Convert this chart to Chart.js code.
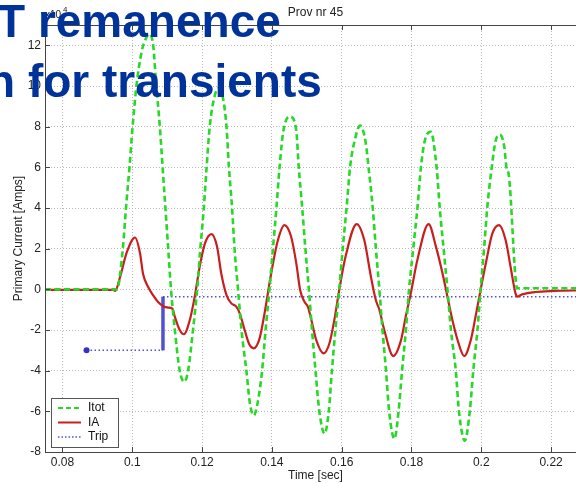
<!DOCTYPE html>
<html>
<head>
<meta charset="utf-8">
<script src="https://cdn.jsdelivr.net/npm/chart.js@4.4.1/dist/chart.umd.min.js"></script>
<style>
  html, body { margin: 0; padding: 0; overflow: hidden; background: #fff; }
  #wrap { position: relative; width: 590px; height: 483px; }
  .slide-title {
    position: absolute;
    font: bold 46px "Liberation Sans", Arial, sans-serif;
    line-height: 46px;
    color: #003399;
    white-space: nowrap;
  }
</style>
</head>
<body>
<div id="wrap">
  <canvas id="chart"></canvas>
  <div class="slide-title" style="top:-2px; left:-3px">T remanence</div>
  <div class="slide-title" style="top:58px; left:-13px">n for transients</div>
</div>
<script>
// values are in units of 1e4 A
const plotTitle = 'Prov nr 45';
const xTicks = [0.08, 0.1, 0.12, 0.14, 0.16, 0.18, 0.2, 0.22];
const xTickLabels = ['0.08', '0.1', '0.12', '0.14', '0.16', '0.18', '0.2', '0.22'];
const yTicks = [-8, -6, -4, -2, 0, 2, 4, 6, 8, 10, 12];
const yTickLabels = ['-8', '-6', '-4', '-2', '0', '2', '4', '6', '8', '10', '12'];

const itotTime = [
  0.075, 0.0956, 0.0973, 0.0982, 0.0992, 0.1001, 0.1012, 0.1027, 0.1038, 0.1049,
  0.1060, 0.1068, 0.1079, 0.1087, 0.1095, 0.1103, 0.1111, 0.1122, 0.1136, 0.1149,
  0.1160, 0.1174, 0.1186, 0.1195, 0.1205, 0.1213, 0.1222, 0.1236, 0.1248, 0.1260,
  0.1270, 0.1277, 0.1286, 0.1293, 0.1303, 0.1313, 0.1327, 0.1337, 0.1348, 0.1359,
  0.1372, 0.1382, 0.1393, 0.1403, 0.1413, 0.1422, 0.1433, 0.1452, 0.1470, 0.1477,
  0.1487, 0.1496, 0.1506, 0.1515, 0.1525, 0.1536, 0.1551, 0.1563, 0.1572, 0.1582,
  0.1593, 0.1603, 0.1614, 0.1624, 0.1637, 0.1653, 0.1669, 0.1677, 0.1689, 0.1698,
  0.1708, 0.1717, 0.1727, 0.1736, 0.1751, 0.1763, 0.1773, 0.1784, 0.1793, 0.1805,
  0.1817, 0.1827, 0.1838, 0.1855, 0.1872, 0.1881, 0.1892, 0.1903, 0.1913, 0.1927,
  0.1936, 0.1953, 0.1967, 0.1977, 0.1989, 0.1998, 0.2008, 0.2017, 0.2030, 0.2041,
  0.2053, 0.2066, 0.2072, 0.2079, 0.2103, 0.2300
];
const itot = [
  0.0, 0.0, 2.0, 4.0, 6.0, 8.0, 10.0, 11.7, 12.3, 12.55,
  12.0, 10.2, 8.0, 6.0, 4.0, 2.0, 0.0, -2.0, -4.0, -4.55,
  -4.0, -2.0, 0.0, 2.0, 4.0, 6.0, 8.0, 9.5, 9.9, 9.4,
  8.0, 6.0, 4.0, 2.0, 0.0, -2.0, -4.0, -5.6, -6.2, -5.6,
  -4.0, -2.0, 0.0, 2.0, 4.0, 6.0, 7.8, 8.5, 7.8, 6.0,
  4.0, 2.0, 0.0, -2.0, -4.0, -6.0, -7.1, -6.0, -4.0, -2.0,
  0.0, 2.0, 4.0, 6.0, 7.3, 8.05, 7.2, 6.0, 4.0, 2.0,
  0.0, -2.0, -4.0, -6.0, -7.35, -6.0, -4.0, -2.0, 0.0, 2.0,
  4.0, 6.0, 7.3, 7.75, 6.0, 4.0, 2.0, 0.0, -2.0, -4.0,
  -6.0, -7.45, -6.0, -4.0, -2.0, 0.0, 2.0, 4.0, 6.0, 7.3,
  7.6, 7.0, 6.0, 5.6, 0.05, 0.05
];

const iaTime = [
  0.075, 0.0945, 0.0951, 0.0965, 0.0984, 0.1008, 0.1022, 0.1031, 0.1046, 0.1060,
  0.1074, 0.1089, 0.1103, 0.1115, 0.1122, 0.1136, 0.1148, 0.1165, 0.1179, 0.1193,
  0.1208, 0.1227, 0.1243, 0.1255, 0.1270, 0.1284, 0.1298, 0.1308, 0.1322, 0.1336,
  0.1348, 0.1365, 0.1379, 0.1398, 0.1417, 0.1436, 0.1455, 0.1470, 0.1481, 0.1493,
  0.1503, 0.1513, 0.1527, 0.1548, 0.1565, 0.1579, 0.1593, 0.1611, 0.1643, 0.1665,
  0.1684, 0.1698, 0.1708, 0.1722, 0.1748, 0.1770, 0.1784, 0.1798, 0.1817, 0.1849,
  0.1870, 0.1889, 0.1903, 0.1917, 0.1932, 0.1951, 0.1970, 0.1984, 0.1998, 0.2013,
  0.2032, 0.2051, 0.2070, 0.2084, 0.2098, 0.2103, 0.2117, 0.2155, 0.2206, 0.2300
];
const ia = [
  -0.03, -0.03, -0.08, 0.6, 1.8, 2.55, 1.8, 0.75, 0.1, -0.3,
  -0.62, -0.83, -0.9, -0.95, -1.35, -2.0, -2.21, -1.5, -0.36, 1.1,
  2.25, 2.72, 2.1, 0.78, -0.28, -0.69, -0.85, -1.18, -2.0, -2.73,
  -2.9, -2.4, -1.18, 0.78, 2.4, 3.16, 2.6, 1.28, -0.03, -0.6,
  -0.85, -1.5, -2.49, -3.15, -2.65, -1.5, -0.03, 1.6, 3.21, 2.4,
  0.6, -0.54, -1.0, -2.0, -3.28, -2.5, -1.3, -0.2, 1.45, 3.21,
  2.1, 0.78, -0.36, -1.5, -2.49, -3.28, -2.49, -1.3, -0.03, 1.28,
  2.76, 3.16, 2.4, 1.1, -0.2, -0.36, -0.25, -0.13, -0.08, -0.05
];

const tripTime = [0.0869, 0.1088, 0.1088, 0.2300];
const trip = [-3.0, -3.0, -0.36, -0.36];

const toPoints = (xs, ys) => xs.map((x, i) => ({ x, y: ys[i] }));
const fontFamily = '"Liberation Sans", Arial, Helvetica, sans-serif';
Chart.defaults.font.family = fontFamily;
Chart.defaults.color = '#222';

const isVertical = (ctx) => ctx.p0.parsed.x === ctx.p1.parsed.x;

// matlab style frame, inward ticks, title, exponent and legend box
const matlabFrame = {
  id: 'matlabFrame',
  afterDraw(chart) {
    const { ctx, chartArea: a, scales: { x, y } } = chart;
    ctx.save();
    ctx.strokeStyle = '#444';
    ctx.lineWidth = 1;
    ctx.strokeRect(a.left + 0.5, a.top + 0.5, a.right - a.left, a.bottom - a.top);
    ctx.beginPath();
    xTicks.forEach((v) => {
      const px = Math.round(x.getPixelForValue(v)) + 0.5;
      ctx.moveTo(px, a.bottom); ctx.lineTo(px, a.bottom - 5);
      ctx.moveTo(px, a.top); ctx.lineTo(px, a.top + 5);
    });
    yTicks.forEach((v) => {
      const py = Math.round(y.getPixelForValue(v)) + 0.5;
      ctx.moveTo(a.left, py); ctx.lineTo(a.left + 5, py);
    });
    ctx.stroke();

    ctx.fillStyle = '#222';
    ctx.textBaseline = 'middle';
    ctx.textAlign = 'center';
    ctx.font = '12px ' + fontFamily;
    ctx.fillText(plotTitle, (a.left + a.right) / 2, 13);
    ctx.textAlign = 'left';
    ctx.font = '10px ' + fontFamily;
    ctx.fillText('x10', a.left, 15);
    ctx.font = '8px ' + fontFamily;
    ctx.fillText('4', a.left + ctx.measureText('x10').width + 5, 10);

    // legend
    const bx = a.left + 6;
    const by = a.bottom - 54;
    ctx.fillStyle = '#fff';
    ctx.fillRect(bx, by, 67, 49);
    ctx.strokeStyle = '#555';
    ctx.strokeRect(bx + 0.5, by + 0.5, 67, 49);
    ctx.font = '12px ' + fontFamily;
    chart.data.datasets.forEach((ds, i) => {
      const ly = by + 10 + i * 14.5;
      ctx.beginPath();
      ctx.strokeStyle = ds.borderColor;
      ctx.lineWidth = ds.legendWidth;
      ctx.setLineDash(ds.legendDash);
      ctx.moveTo(bx + 7, ly);
      ctx.lineTo(bx + 30, ly);
      ctx.stroke();
      ctx.setLineDash([]);
      ctx.fillStyle = '#111';
      ctx.fillText(ds.label, bx + 37, ly);
    });
    ctx.restore();
  }
};

new Chart(document.getElementById('chart'), {
  type: 'line',
  data: {
    datasets: [
      {
        label: 'Itot',
        data: toPoints(itotTime, itot),
        borderColor: 'rgb(40, 215, 40)',
        borderWidth: 2.6,
        borderDash: [6, 3.5],
        legendWidth: 2.2,
        legendDash: [5, 3],
        pointRadius: 0,
        cubicInterpolationMode: 'monotone'
      },
      {
        label: 'IA',
        data: toPoints(iaTime, ia),
        borderColor: 'rgb(200, 30, 30)',
        borderWidth: 2.2,
        legendWidth: 2,
        legendDash: [],
        pointRadius: 0,
        cubicInterpolationMode: 'monotone'
      },
      {
        label: 'Trip',
        data: toPoints(tripTime, trip),
        borderColor: 'rgba(50, 50, 200, 0.85)',
        borderWidth: 1.5,
        borderDash: [1.5, 2.5],
        legendWidth: 1.5,
        legendDash: [1.5, 2],
        tension: 0,
        pointRadius: (ctx) => (ctx.dataIndex === 0 ? 3 : 0),
        pointBackgroundColor: 'rgb(50, 50, 200)',
        pointBorderWidth: 0,
        segment: {
          borderWidth: (ctx) => (isVertical(ctx) ? 3.5 : 1.5),
          borderDash: (ctx) => (isVertical(ctx) ? [] : [1.5, 2.5])
        }
      }
    ]
  },
  options: {
    responsive: true,
    maintainAspectRatio: false,
    animation: false,
    layout: { padding: { top: 25, right: 2.5, left: 0, bottom: 0 } },
    plugins: {
      legend: { display: false },
      tooltip: { enabled: false }
    },
    scales: {
      x: {
        type: 'linear',
        min: 0.075,
        max: 0.23,
        afterBuildTicks(scale) { scale.ticks = xTicks.map((v) => ({ value: v })); },
        afterFit(scale) { scale.height = 31; },
        ticks: {
          font: { size: 12 },
          color: '#222',
          padding: 3,
          maxRotation: 0,
          callback(value, index) { return xTickLabels[index]; }
        },
        grid: { color: '#b8b8b8', drawTicks: false },
        border: { display: false, dash: [1, 2] },
        title: { display: true, text: 'Time [sec]', font: { size: 12 }, color: '#222', padding: { top: 0, bottom: 0 } }
      },
      y: {
        min: -8,
        max: 13,
        afterBuildTicks(scale) { scale.ticks = yTicks.map((v) => ({ value: v })); },
        afterFit(scale) { scale.width = 45; },
        ticks: {
          font: { size: 12 },
          color: '#222',
          padding: 4,
          callback(value, index) { return yTickLabels[index]; }
        },
        grid: { color: '#b8b8b8', drawTicks: false },
        border: { display: false, dash: [1, 2] },
        title: { display: true, text: 'Primary Current [Amps]', font: { size: 12 }, color: '#222', padding: { top: 11, bottom: 0 } }
      }
    }
  },
  plugins: [matlabFrame]
});
</script>
</body>
</html>
